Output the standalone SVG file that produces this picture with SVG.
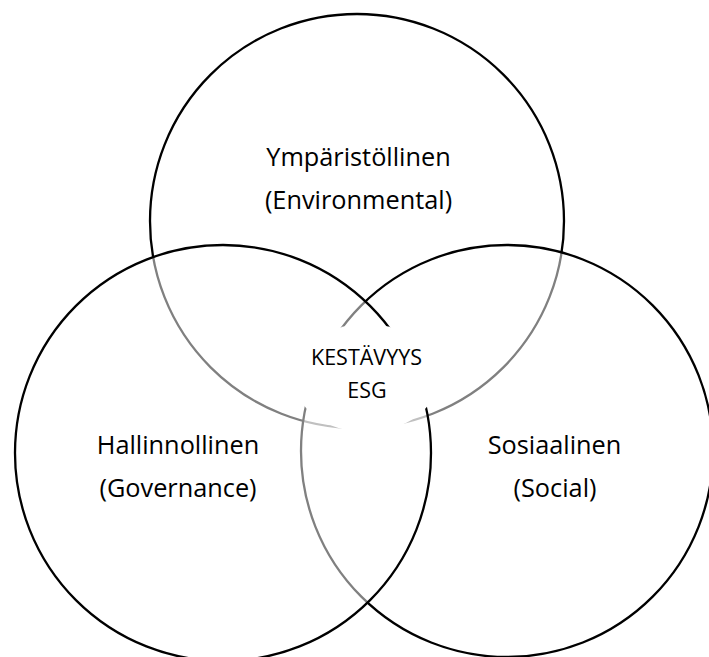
<svg xmlns="http://www.w3.org/2000/svg" width="709" height="657" viewBox="0 0 709 657">
  <style>
    .ring { fill: #ffffff; fill-opacity: 0.5; stroke: #000000; stroke-width: 2.3; }
    .lbl { font-family: "Open Sans", "Liberation Sans", sans-serif; font-size: 25.3px; fill: #000000; text-anchor: middle; }
    .core { font-family: "Open Sans", "Liberation Sans", sans-serif; font-size: 21.5px; fill: #000000; text-anchor: middle; }
  </style>
  <rect x="0" y="0" width="709" height="657" fill="#ffffff"/>
  <g id="environmental">
    <circle class="ring" cx="357" cy="221" r="207"/>
  </g>
  <g id="social">
    <circle class="ring" cx="507" cy="451" r="206"/>
  </g>
  <g id="governance">
    <circle class="ring" cx="223" cy="453" r="208"/>
  </g>
  <g id="labels">
    <text class="lbl" x="358.5" y="166">Ympäristöllinen</text>
    <text class="lbl" x="358.5" y="209">(Environmental)</text>
    <text class="lbl" x="178" y="454">Hallinnollinen</text>
    <text class="lbl" x="178" y="497">(Governance)</text>
    <text class="lbl" x="554.5" y="454">Sosiaalinen</text>
    <text class="lbl" x="555" y="497">(Social)</text>
  </g>
  <g id="core">
    <ellipse cx="366" cy="378" rx="72" ry="54" fill="#ffffff"/>
    <text class="core" x="366.5" y="365">KESTÄVYYS</text>
    <text class="core" x="367" y="398">ESG</text>
  </g>
</svg>
